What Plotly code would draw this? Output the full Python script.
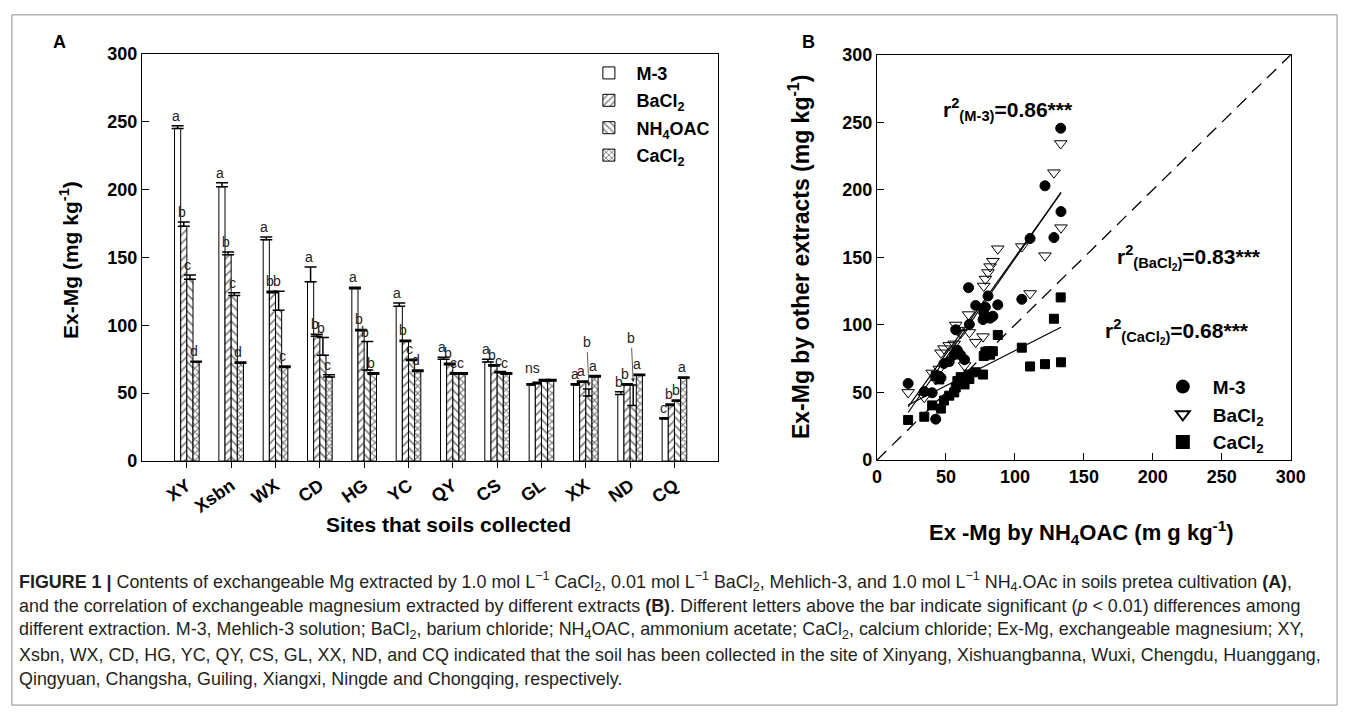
import plotly.graph_objects as go

W, H = 1358, 718

# ---------------- Panel A data ----------------
sites = ["XY", "Xsbn", "WX", "CD", "HG", "YC", "QY", "CS", "GL", "XX", "ND", "CQ"]
m3 = [245, 202, 163, 132, 127, 114, 75, 73, 56, 56, 49, 31]
m3_err = [2, 3, 2, 11, 1, 2.5, 1.5, 2, 1, 1, 2, 1]
bacl2 = [173, 152, 124, 92, 96, 88, 71, 70, 57, 58, 56, 41]
bacl2_err = [3, 2, 1, 1.5, 1, 1, 1, 1, 1, 1, 1, 1]
nh4oac = [134, 122, 111, 78, 67, 74, 64, 65, 59, 48, 41, 44]
nh4oac_err = [3, 2, 14, 13, 21, 1, 1, 1, 1, 5, 15, 1]
cacl2 = [73, 72, 69, 62, 64, 66, 64, 64, 59, 62, 63, 61]
cacl2_err = [0.5, 1, 1, 1.5, 1, 1, 1, 1, 1, 1, 1, 1]

m3_letters = ["a", "a", "a", "a", "a", "a", "a", "a", "", "a", "b", "c"]
bacl2_letters = ["b", "b", "b", "b", "b", "b", "b", "b", "", "a", "b", "b"]
nh4oac_letters = ["c", "c", "b", "b", "b", "c", "c", "c", "", "b", "b", "b"]
nh4oac_arrow = [False] * 9 + [True, True, False]
cacl2_letters = ["d", "d", "c", "c", "b", "d", "c", "c", "", "a", "a", "a"]
group_letter = ["", "", "", "", "", "", "", "", "ns", "", "", ""]

# ---------------- Panel B data ----------------
nh4_x = [22.6, 34.3, 40.0, 42.6, 45.2, 46.4, 48.6, 52.4, 56.0, 57.1, 58.3, 60.7, 63.5,
         66.4, 67.0, 71.6, 76.9, 77.4, 78.6, 80.5, 82.0, 84.0, 87.6, 105.0, 111.0,
         121.8, 128.3, 133.2, 133.4]
m3_y = [56.7, 50.7, 49.8, 30.3, 62.0, 60.9, 71.5, 72.9, 78.0, 96.4, 81.3, 77.7, 74.3,
        127.6, 100.5, 114.4, 104.0, 109.0, 113.2, 121.5, 105.0, 106.5, 114.9, 119.0, 164.0,
        203.0, 164.7, 245.6, 183.9]
bacl2_y = [50.1, 46.5, 64.5, 59.7, 67.4, 79.4, 82.5, 84.9, 86.0, 100.0, 96.2, 94.0, 70.0,
           107.7, 94.5, 87.3, 91.4, 128.8, 134.0, 138.8, 143.2, 147.2, 156.4, 158.0, 123.3,
           151.3, 212.7, 234.3, 172.0]
cacl2_y = [29.7, 32.1, 40.5, 62.2, 59.7, 38.1, 44.1, 47.7, 50.1, 53.7, 58.5, 61.4, 56.0,
           63.3, 60.0, 65.0, 63.3, 77.0, 80.1, 80.6, 78.0, 80.6, 92.6, 83.2, 69.3,
           71.0, 104.6, 120.4, 72.4]
# regression lines (slope, intercept)
fit_m3 = (1.47, 2.0)
fit_bacl2 = (1.43, 7.0)
fit_cacl2 = (0.52, 29.0)
r2_labels = ["r<sup>2</sup><sub>(M-3)</sub>=0.86***",
             "r<sup>2</sup><sub>(BaCl<sub>2</sub>)</sub>=0.83***",
             "r<sup>2</sup><sub>(CaCl<sub>2</sub>)</sub>=0.68***"]

FONT = "Liberation Sans, Arial, sans-serif"


def px(xp):
    return xp / W


def py(yp):
    return 1 - yp / H


fig = go.Figure()

# ---------------- Panel A bars ----------------
bargap = 0.444
gw = 1 - bargap
bw = gw / 4
xs = list(range(len(sites)))
series = [
    ("<b>M-3</b>", m3, m3_err, "", m3_letters),
    ("<b>BaCl<sub>2</sub></b>", bacl2, bacl2_err, "/", bacl2_letters),
    ("<b>NH<sub>4</sub>OAC</b>", nh4oac, nh4oac_err, "\\", nh4oac_letters),
    ("<b>CaCl<sub>2</sub></b>", cacl2, cacl2_err, "x", cacl2_letters),
]
for i, (name, vals, errs, pat, _) in enumerate(series):
    fig.add_trace(go.Bar(
        x=xs, y=vals, name=name, xaxis="x", yaxis="y", legendgroup="g%d" % i,
        marker=dict(color="white", line=dict(color="black", width=1),
                    pattern=dict(shape=pat, fgcolor="black", bgcolor="white",
                                 size=5 if pat == "x" else 6,
                                 solidity=0.4 if pat == "x" else 0.3)),
        error_y=dict(type="data", array=errs, arrayminus=[0] * len(errs), symmetric=False,
                     color="black", thickness=1.5, width=6),
        legend="legend",
    ))

annotations = []
for i, (name, vals, errs, pat, letters) in enumerate(series):
    off = -gw / 2 + (i + 0.5) * bw
    for j, lt in enumerate(letters):
        if not lt:
            continue
        top = vals[j] + errs[j]
        if i == 2 and nh4oac_arrow[j]:
            annotations.append(dict(x=j + off, y=top + 2, xref="x", yref="y", text=lt,
                                    showarrow=True, ax=-2, ay=-44, arrowhead=2, arrowsize=1,
                                    arrowwidth=0.8, arrowcolor="#333",
                                    font=dict(family=FONT, size=14, color="#222")))
        else:
            annotations.append(dict(x=j + off, y=top, xref="x", yref="y", text=lt,
                                    showarrow=False, xanchor="center", yanchor="bottom",
                                    xshift=-2, yshift=0,
                                    font=dict(family=FONT, size=14, color="#222")))
for j, lt in enumerate(group_letter):
    if lt:
        top = max(m3[j] + m3_err[j], bacl2[j] + bacl2_err[j],
                  nh4oac[j] + nh4oac_err[j], cacl2[j] + cacl2_err[j])
        annotations.append(dict(x=j - 0.2, y=top, xref="x", yref="y", text=lt,
                                showarrow=False, xanchor="center", yanchor="bottom", yshift=2,
                                font=dict(family=FONT, size=14, color="#222")))

# ---------------- Panel B scatter ----------------
markers = [("<b>M-3</b>", m3_y, "circle", 10),
           ("<b>BaCl<sub>2</sub></b>", bacl2_y, "triangle-down-open", 11),
           ("<b>CaCl<sub>2</sub></b>", cacl2_y, "square", 9)]
xmin, xmax = min(nh4_x), max(nh4_x)
for fit in [fit_m3, fit_bacl2, fit_cacl2]:
    fig.add_trace(go.Scatter(
        x=[xmin, xmax], y=[fit[0] * xmin + fit[1], fit[0] * xmax + fit[1]],
        mode="lines", line=dict(color="black", width=1.2), showlegend=False,
        xaxis="x2", yaxis="y2", hoverinfo="skip"))
for name, yv, sym, size in markers:
    fig.add_trace(go.Scatter(
        x=nh4_x, y=yv, mode="markers", name=name, xaxis="x2", yaxis="y2",
        marker=dict(symbol=sym, size=size, color="black",
                    line=dict(color="black", width=1)),
        legend="legend2"))
# 1:1 line
fig.add_trace(go.Scatter(x=[0, 300], y=[0, 300], mode="lines",
                         line=dict(color="black", width=1.3, dash="13px,8px"),
                         showlegend=False, xaxis="x2", yaxis="y2", hoverinfo="skip"))

# r2 labels
for txt, (xp_, yp_) in zip(r2_labels, [(1018, 102), (1202, 255), (1190, 331)]):
    annotations.append(dict(x=px(xp_), y=py(yp_), xref="paper", yref="paper",
                            text="<b>" + txt + "</b>", xanchor="center", yanchor="middle",
                            showarrow=False, font=dict(family=FONT, size=21, color="black")))


# axis titles / panel labels
def lab(x, y, text, size, angle=0):
    return dict(x=px(x), y=py(y), xref="paper", yref="paper", text=text, textangle=angle,
                xanchor="center", yanchor="middle", showarrow=False,
                font=dict(family=FONT, size=size, color="black"))


annotations += [
    lab(55, 33, "<b>A</b>", 18),
    lab(816, 33, "<b>B</b>", 18),
    lab(65, 257, "<b>Ex-Mg (mg kg<sup>-1</sup>)</b>", 21, -90),
    lab(450, 529, "<b>Sites that soils collected</b>", 21),
    lab(806, 254, "<b>Ex-Mg by other extracts (mg kg<sup>-1</sup>)</b>", 23, -90),
    lab(1093, 537, "<b>Ex -Mg by NH<sub>4</sub>OAC (m g kg<sup>-1</sup>)</b>", 22),
]

caption = [
    "<b>FIGURE 1 |</b> Contents of exchangeable Mg extracted by 1.0 mol L<sup>−1</sup> CaCl<sub>2</sub>, 0.01 mol L<sup>−1</sup> BaCl<sub>2</sub>, Mehlich-3, and 1.0 mol L<sup>−1</sup> NH<sub>4</sub>.OAc in soils pretea cultivation <b>(A)</b>,",
    "and the correlation of exchangeable magnesium extracted by different extracts <b>(B)</b>. Different letters above the bar indicate significant (<i>p</i> &lt; 0.01) differences among",
    "different extraction. M-3, Mehlich-3 solution; BaCl<sub>2</sub>, barium chloride; NH<sub>4</sub>OAC, ammonium acetate; CaCl<sub>2</sub>, calcium chloride; Ex-Mg, exchangeable magnesium; XY,",
    "Xsbn, WX, CD, HG, YC, QY, CS, GL, XX, ND, and CQ indicated that the soil has been collected in the site of Xinyang, Xishuangbanna, Wuxi, Chengdu, Huanggang,",
    "Qingyuan, Changsha, Guiling, Xiangxi, Ningde and Chongqing, respectively.",
]
for k, line in enumerate(caption):
    annotations.append(dict(x=px(12), y=py(588 + 25 * k), xref="paper", yref="paper", text=line,
                            showarrow=False, xanchor="left", yanchor="middle", align="left",
                            font=dict(family="Liberation Sans, Arial, sans-serif", size=17.9,
                                      color="#231f20")))

axis_common = dict(showline=True, linecolor="black", linewidth=1.3, mirror=True,
                   showgrid=False, zeroline=False,
                   tickfont=dict(family=FONT, size=18, color="black", weight="bold"))

fig.update_layout(
    width=W, height=H, margin=dict(l=0, r=0, t=0, b=0),
    paper_bgcolor="white", plot_bgcolor="white",
    barmode="group", bargap=bargap, bargroupgap=0,
    xaxis=dict(domain=[px(139), px(724)], anchor="y", range=[-1.013, 11.99],
               tickmode="array", tickvals=xs, ticktext=sites, tickangle=-35,
               ticks="outside", ticklen=6, tickcolor="black", **axis_common),
    yaxis=dict(domain=[py(464), py(45)], anchor="x", range=[0, 300], dtick=50,
               ticks="inside", ticklen=7, tickcolor="black", **axis_common),
    xaxis2=dict(domain=[px(885), px(1305)], anchor="y2", range=[0, 300], dtick=50,
                ticks="inside", ticklen=7, tickcolor="black", **axis_common),
    yaxis2=dict(domain=[py(463), py(46)], anchor="x2", range=[0, 300], dtick=50,
                ticks="inside", ticklen=7, tickcolor="black", **axis_common),
    legend=dict(x=px(585), y=py(46), xanchor="left", yanchor="top", bgcolor="rgba(0,0,0,0)",
                font=dict(family=FONT, size=18, color="black"), tracegroupgap=1,
                itemwidth=45),
    legend2=dict(x=px(1165), y=py(368), xanchor="left", yanchor="top", bgcolor="rgba(0,0,0,0)",
                 font=dict(family=FONT, size=19, color="black"), itemsizing="constant",
                 itemwidth=50),
    annotations=annotations,
    shapes=[dict(type="rect", xref="paper", yref="paper", x0=px(7), x1=px(1352), y0=py(715), y1=py(5),
                 line=dict(color="#8a8a8a", width=1))],
    showlegend=True,
)

fig.write_html("out.html")
